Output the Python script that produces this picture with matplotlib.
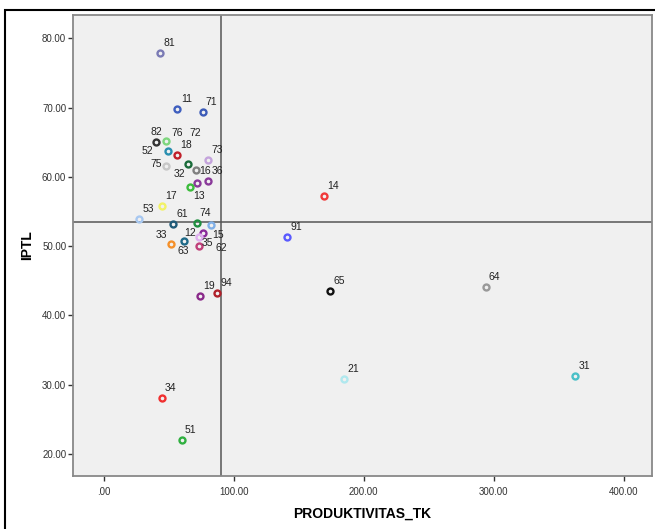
import matplotlib
matplotlib.use("Agg")
import matplotlib.pyplot as plt
from matplotlib.patches import Rectangle

plt.rcParams['font.family'] = ['Liberation Sans', 'DejaVu Sans']

# data
ids = ['81', '11', '71', '82', '76', '52', '18', '73', '75', '72', '16', '32',
       '36', '13', '17', '53', '61', '74', '62', '15', '12', '63', '33', '35',
       '19', '94', '14', '91', '65', '64', '21', '31', '34', '51']
produktivitas_tk = [43.4, 56.7, 76.2, 40.3, 47.8, 49.3, 56.7, 80.1, 47.8, 65.2, 71.1, 71.6,
                    80.5, 66.2, 44.9, 27.2, 53.6, 71.6, 82.4, 76.5, 73.4, 61.6, 51.6, 73.2,
                    73.9, 87.5, 169.3, 141.3, 174.2, 293.9, 185.2, 362.6, 44.7, 60.1]
iptl = [77.84, 69.75, 69.37, 65.08, 65.22, 63.69, 63.12, 62.48, 61.57, 61.82, 60.95, 59.16,
        59.41, 58.5, 55.87, 53.92, 53.25, 53.3, 53.06, 51.9, 51.37, 50.79, 50.32, 50.03,
        42.77, 43.2, 57.24, 51.37, 43.54, 44.16, 30.79, 31.27, 28.14, 22.08]
colors = ['#7b7bb5', '#3f5fbf', '#3c5bb8', '#333333', '#7ed67e', '#2a8fb0', '#c0202a', '#c4a4dc',
          '#c8c8c8', '#1a6b3a', '#808080', '#8a3a9a', '#8a3a9a', '#3cbc3c', '#f2f266', '#a8c8f0',
          '#1f5a78', '#1f8f3f', '#80b0e8', '#8a2a9a', '#e0b0f0', '#1f6a88', '#f5902a', '#c0407a',
          '#8a2a8a', '#b0202a', '#f03a3a', '#5a5aff', '#111111', '#999999', '#b0e8ee', '#4ac0c8',
          '#f03030', '#30b040']
ref_x = 90.3
ref_y = 53.53
xticks = [0, 100, 200, 300, 400]
yticks = [20, 30, 40, 50, 60, 70, 80]

# label offsets in pixels (dx right, dy down) where they differ from the default
default_off = (9, -10)
label_off = {'82': (0, -10), '76': (11, -8), '52': (-20, 0), '75': (-10, -2),
             '72': (7, -31), '16': (9, 1), '32': (-17, -9), '13': (9, 9),
             '62': (11, 23), '15': (15, 2), '12': (-9, -4), '63': (0, 10),
             '33': (-9, -9), '35': (9, -3)}

fig = plt.figure(figsize=(6.55, 5.29), dpi=100)
ax = fig.add_axes([0.1119, 0.1002, 0.8835, 0.8714])
ax.set_facecolor('#f0f0f0')

ax.axvline(ref_x, color='#555555', lw=1.1, zorder=1)
ax.axhline(ref_y, color='#555555', lw=1.1, zorder=1)

for i in range(len(ids)):
    ax.plot(produktivitas_tk[i], iptl[i], 'o', ms=4.3, mfc='none', mec=colors[i],
            mew=1.7, zorder=3)
    dx, dy = label_off.get(ids[i], default_off)
    ax.annotate(ids[i], (produktivitas_tk[i], iptl[i]), xytext=(dx * 0.72, -dy * 0.72),
                textcoords='offset points', ha='center', va='center', fontsize=7.5,
                color='#222222', zorder=4)

ax.set_xlim(-23.3, 421.8)
ax.set_ylim(16.84, 83.36)
ax.set_xticks(xticks)
ax.set_yticks(yticks)
ax.set_xticklabels(['.00' if v == 0 else f'{v:.2f}' for v in xticks])
ax.set_yticklabels([f'{v:.2f}' for v in yticks])
ax.tick_params(direction='out', length=3.6, width=1, color='#333333',
               labelsize=7, labelcolor='#333333', pad=1.5)
ax.tick_params(axis='x', pad=4)
for s in ax.spines.values():
    s.set_color('#888888')
    s.set_linewidth(1.3)

ax.set_xlabel('PRODUKTIVITAS_TK', fontsize=10, fontweight='bold', labelpad=7)
ax.set_ylabel('IPTL', fontsize=10, fontweight='bold', labelpad=6)

# outer chart frame
fig.patches.append(Rectangle((0.0076, -0.02), 1.1, 1 - 9.5 / 529 + 0.02, fill=False,
                             ec='black', lw=1.5, transform=fig.transFigure))

fig.savefig('out.png', dpi=100)
